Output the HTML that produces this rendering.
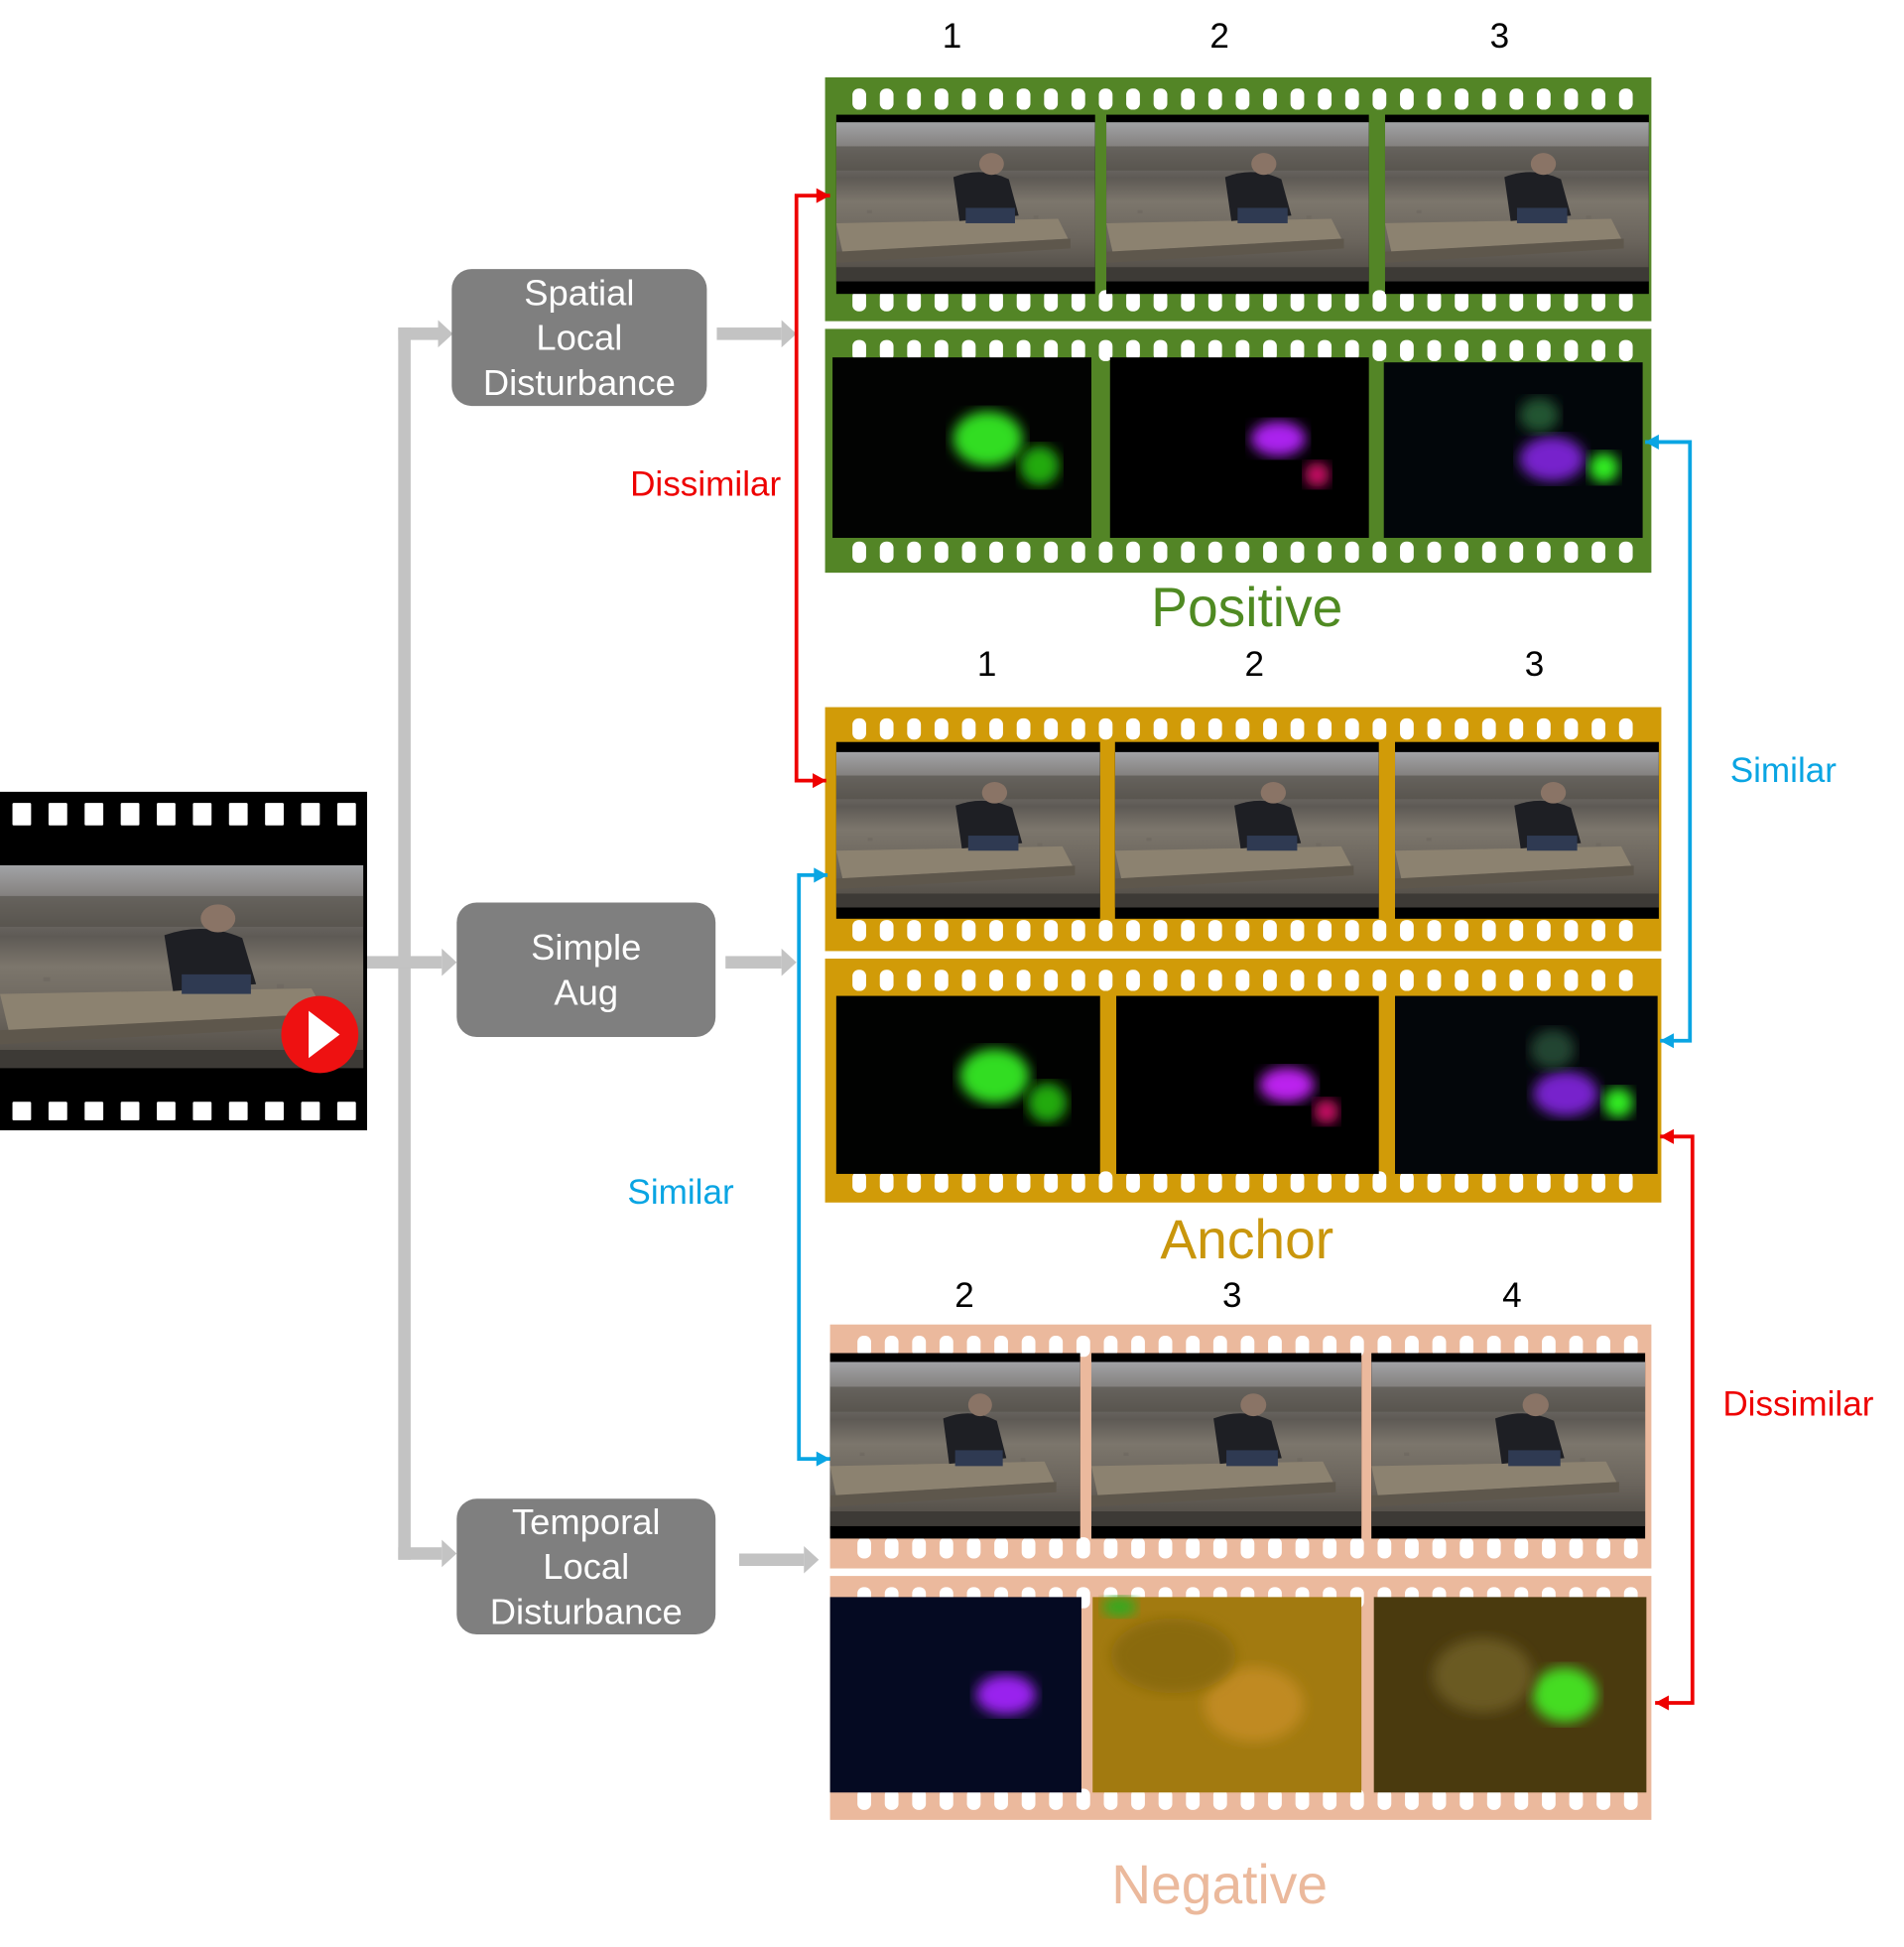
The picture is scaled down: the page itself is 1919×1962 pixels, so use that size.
<!DOCTYPE html>
<html><head><meta charset="utf-8">
<style>
html,body{margin:0;padding:0;background:#fff;}
svg{display:block;}
text{font-family:"Liberation Sans","DejaVu Sans",sans-serif;}
</style></head>
<body>
<svg id="s" xmlns="http://www.w3.org/2000/svg" width="1919" height="1962" viewBox="0 0 1530 1564">
<defs>
  <linearGradient id="ph" x1="0" y1="0" x2="0" y2="1">
    <stop offset="0" stop-color="#a2a3a6"/>
    <stop offset="0.2" stop-color="#7a7672"/>
    <stop offset="0.35" stop-color="#5e5a55"/>
    <stop offset="0.5" stop-color="#7c766c"/>
    <stop offset="0.75" stop-color="#6a645c"/>
    <stop offset="1" stop-color="#4c4842"/>
  </linearGradient>
  <symbol id="photo" viewBox="0 0 210 145" preserveAspectRatio="none">
    <rect width="210" height="145" fill="url(#ph)"/>
    <rect x="0" y="22" width="210" height="22" fill="#4f4a44" opacity="0.55"/>
    <g fill="#6d675f" opacity="0.6">
      <rect x="10" y="95" width="4" height="3"/><rect x="40" y="100" width="4" height="3"/><rect x="70" y="90" width="4" height="3"/>
      <rect x="25" y="80" width="4" height="3"/><rect x="160" y="85" width="4" height="3"/><rect x="190" y="100" width="4" height="3"/>
    </g>
    <polygon points="0,92 180,88 188,106 5,118" fill="#8c8270"/>
    <polygon points="0,118 190,106 190,115 0,128" fill="#5e574c"/>
    <path d="M95,50 Q118,40 140,52 L148,85 L100,90 Z" fill="#1e1f24"/>
    <rect x="105" y="78" width="40" height="14" fill="#2f3a52"/>
    <circle cx="126" cy="38" r="10" fill="#8a7466"/>
    <rect x="0" y="132" width="210" height="13" fill="#3d3a36"/>
  </symbol>
  <filter id="bl"><feGaussianBlur stdDeviation="5"/></filter>
</defs>
<g id="g"></g>
</svg>
<script>
var g=document.getElementById('g');var NS='http://www.w3.org/2000/svg';
function el(t,a,txt){var e=document.createElementNS(NS,t);for(var k in a)e.setAttribute(k,a[k]);if(txt!=null)e.textContent=txt;g.appendChild(e);return e;}
function holes(x0,x1,y,w,h,step,col,rx){for(var x=x0;x+w<=x1;x+=step)el('rect',{x:x,y:y,width:w,height:h,rx:rx,fill:col});}
function photo(x,y,w,h){var u=document.createElementNS(NS,'use');u.setAttribute('href','#photo');u.setAttribute('x',x);u.setAttribute('y',y);u.setAttribute('width',w);u.setAttribute('height',h);g.appendChild(u);}
function flow(x,y,w,h,bg,blobs){el('rect',{x:x,y:y,width:w,height:h,fill:bg});blobs.forEach(function(b){el('ellipse',{cx:x+b[0]*w,cy:y+b[1]*h,rx:b[2],ry:b[3],fill:b[4],filter:'url(#bl)'});});}
var G='#538526',O='#d19b08',P='#ebb99d',R='#ee0000',B='#0aa5e3',GR='#c3c3c3';
el('rect',{x:0,y:636,width:295,height:272,fill:'#000'});
holes(10,290,645,15,18,29,'#fff',1);holes(10,290,885,15,15,29,'#fff',1);
photo(0,695,292,163);
el('circle',{cx:257,cy:831,r:31,fill:'#ee1111'});
el('polygon',{points:'248,812 248,850 273,831',fill:'#fff'});
el('rect',{x:320,y:263,width:10,height:990,fill:GR});
el('rect',{x:295,y:768,width:30,height:10,fill:GR});
[[268,320,352],[773,320,355],[1248,320,355]].forEach(function(a){el('rect',{x:a[1],y:a[0]-5,width:a[2]-a[1],height:10,fill:GR});el('polygon',{points:(a[2])+','+(a[0]-11)+' '+(a[2]+12)+','+a[0]+' '+a[2]+','+(a[0]+11),fill:GR});});
[[268,576,628],[773,583,628],[1253,594,646]].forEach(function(a){el('rect',{x:a[1],y:a[0]-5,width:a[2]-a[1],height:10,fill:GR});el('polygon',{points:a[2]+','+(a[0]-11)+' '+(a[2]+12)+','+a[0]+' '+a[2]+','+(a[0]+11),fill:GR});});
function box(x,y,w,h,lines){el('rect',{x:x,y:y,width:w,height:h,rx:16,fill:'#7f7f7f'});var n=lines.length;lines.forEach(function(t,i){el('text',{x:x+w/2,y:y+h/2+(i-(n-1)/2)*36+10,'text-anchor':'middle','font-size':29,fill:'#fff'},t);});}
box(363,216,205,110,['Spatial','Local','Disturbance']);
box(367,725,208,108,['Simple','Aug']);
box(367,1204,208,109,['Temporal','Local','Disturbance']);
function film(x0,x1,y0,col){
  el('rect',{x:x0,y:y0,width:x1-x0,height:196,fill:col});
  holes(x0+22,x1-4,y0+9,11,17,22,'#fff',5);
  holes(x0+22,x1-4,y0+171,11,17,22,'#fff',5);
}
film(663,1327,62,G);film(663,1327,264,G);
el('rect',{x:663,y:258,width:664,height:6,fill:'#fff'});
[[672,208],[889,211],[1113,212]].forEach(function(c){el('rect',{x:c[0],y:92,width:c[1],height:144,fill:'#000'});photo(c[0],98,c[1],128);});
flow(669,287,208,145,'#020302',[[0.6,0.45,28,22,'#33dd22'],[0.8,0.6,16,16,'#22aa11']]);
flow(892,287,208,145,'#000',[[0.65,0.45,22,14,'#aa22ee'],[0.8,0.65,10,10,'#cc1166']]);
flow(1112,291,208,141,'#02060a',[[0.65,0.55,26,18,'#7722cc'],[0.85,0.6,12,12,'#33ee22'],[0.6,0.3,16,14,'#225533']]);
film(663,1335,568,O);film(663,1335,770,O);
el('rect',{x:663,y:765,width:672,height:5,fill:'#fff'});
[[672,212],[896,212],[1121,212]].forEach(function(c){el('rect',{x:c[0],y:596,width:c[1],height:142,fill:'#000'});photo(c[0],604,c[1],125);});
flow(672,800,212,143,'#010201',[[0.6,0.45,28,22,'#33dd22'],[0.8,0.6,16,16,'#22aa11']]);
flow(897,800,211,143,'#000',[[0.65,0.5,22,14,'#bb22ee'],[0.8,0.65,10,10,'#cc1166']]);
flow(1121,800,211,143,'#03060a',[[0.65,0.55,26,18,'#7722cc'],[0.85,0.6,12,12,'#33ee22'],[0.6,0.3,18,16,'#224433']]);
film(667,1327,1064,P);film(667,1327,1266,P);
el('rect',{x:667,y:1261,width:660,height:5,fill:'#fff'});
[[667,201],[877,217],[1102,220]].forEach(function(c){el('rect',{x:c[0],y:1087,width:c[1],height:149,fill:'#000'});photo(c[0],1094,c[1],132);});
flow(667,1283,202,157,'#050a22',[[0.7,0.5,24,16,'#9922ee']]);
flow(878,1283,216,157,'#a27a10',[[0.6,0.55,40,30,'#c08a20'],[0.3,0.3,50,30,'#8a6a10'],[0.1,0.05,14,8,'#33aa22']]);
flow(1104,1283,219,157,'#4a3a0e',[[0.7,0.5,26,22,'#44dd22'],[0.4,0.4,40,30,'#6a5a20']]);
function t(x,y,s,c,sz){el('text',{x:x,y:y,'text-anchor':'middle','font-size':sz,fill:c},s);}
t(765,38,'1','#000',28);t(980,38,'2','#000',28);t(1205,38,'3','#000',28);
t(793,543,'1','#000',28);t(1008,543,'2','#000',28);t(1233,543,'3','#000',28);
t(775,1050,'2','#000',28);t(990,1050,'3','#000',28);t(1215,1050,'4','#000',28);
t(1002,503,'Positive','#4f8a22',44);t(1002,1011,'Anchor','#c9960c',44);t(980,1529,'Negative','#ebb99c',44);
t(567,398,'Dissimilar',R,28);t(547,967,'Similar',B,28);t(1433,628,'Similar',B,28);t(1445,1137,'Dissimilar',R,28);
function conn(x,y1,y2,xa,xb,c){el('polyline',{points:xa+','+y1+' '+x+','+y1+' '+x+','+y2+' '+xb+','+y2,fill:'none',stroke:c,'stroke-width':3});
 [[xa,y1],[xb,y2]].forEach(function(p){var d=p[0]>x?1:-1;el('polygon',{points:p[0]+','+p[1]+' '+(p[0]-d*11)+','+(p[1]-6)+' '+(p[0]-d*11)+','+(p[1]+6),fill:c});});}
conn(640,157,627,667,664,R);
conn(642,703,1172,665,667,B);
conn(1358,355,836,1322,1334,B);
conn(1360,913,1368,1334,1330,R);
</script>
</body></html>
